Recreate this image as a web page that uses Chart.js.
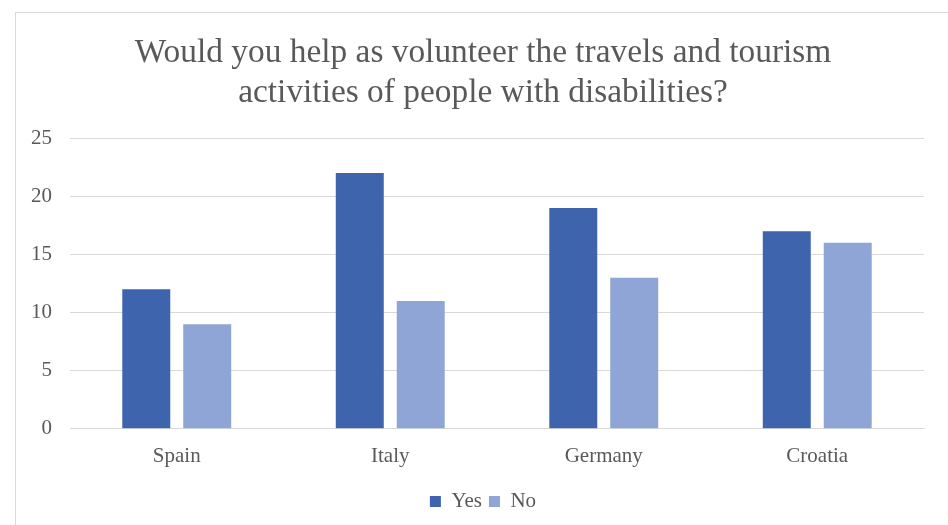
<!DOCTYPE html>
<html>
<head>
<meta charset="utf-8">
<script src="https://cdn.jsdelivr.net/npm/chart.js@4/dist/chart.umd.min.js"></script>
<style>
  html, body { margin: 0; padding: 0; background: #fff; overflow: hidden; }
  body { width: 948px; height: 525px; position: relative; }
  .frame { position: absolute; left: 15px; top: 12px; width: 1000px; height: 600px; border: 1px solid #d9d9d9; box-sizing: border-box; }
  .wrap { position: absolute; left: 0; top: 0; width: 948px; height: 525px; }
</style>
</head>
<body>
<div class="frame"></div>
<div class="wrap"><canvas id="c"></canvas></div>
<script>
// Survey answers per country.
const countries = ["Spain", "Italy", "Germany", "Croatia"];
const yesValues = [12, 22, 19, 17];
const noValues = [9, 11, 13, 16];
const titleLines = [
  "Would you help as volunteer the travels and tourism",
  "activities of people with disabilities?"
];

const TEXT = "#595959";
const GRID = "#d9d9d9";
const SERIF = "'Liberation Serif', 'Times New Roman', serif";

// Title and legend sit centred on the (offset) frame rather than the canvas.
const nudgeBlocks = {
  id: "nudgeBlocks",
  afterLayout(chart) {
    [chart.titleBlock, chart.legend].forEach((b) => {
      if (!b) return;
      b.left += 11;
      b.right += 11;
    });
  },
};

new Chart(document.getElementById("c"), {
  type: "bar",
  data: {
    labels: countries,
    datasets: [
      { label: "Yes", data: yesValues, backgroundColor: "#3d64ad" },
      { label: "No", data: noValues, backgroundColor: "#8fa5d5" },
    ],
  },
  plugins: [nudgeBlocks],
  options: {
    responsive: true,
    maintainAspectRatio: false,
    animation: false,
    devicePixelRatio: 1,
    datasets: { bar: { categoryPercentage: 0.571, barPercentage: 0.787 } },
    layout: { padding: { left: 20, right: 24, top: 0, bottom: 3 } },
    scales: {
      x: {
        grid: { display: false, drawTicks: false },
        border: { color: GRID, width: 1 },
        ticks: { color: TEXT, font: { family: SERIF, size: 21 }, padding: 15 },
      },
      y: {
        min: 0,
        max: 25,
        afterFit: (s) => { s.width = 50; },
        grid: { color: GRID, drawTicks: false, lineWidth: 1 },
        border: { display: false },
        ticks: { stepSize: 5, color: TEXT, font: { family: SERIF, size: 21 }, padding: 18 },
      },
    },
    plugins: {
      title: {
        display: true,
        text: titleLines,
        color: TEXT,
        font: { family: SERIF, size: 33.4, weight: "normal", lineHeight: 1.2 },
        padding: { top: 33, bottom: 25 },
      },
      legend: {
        position: "bottom",
        labels: {
          color: TEXT,
          font: { family: SERIF, size: 21 },
          boxWidth: 11,
          boxHeight: 11,
          padding: 7,
        },
      },
      tooltip: { enabled: false },
    },
  },
});
</script>
</body>
</html>
